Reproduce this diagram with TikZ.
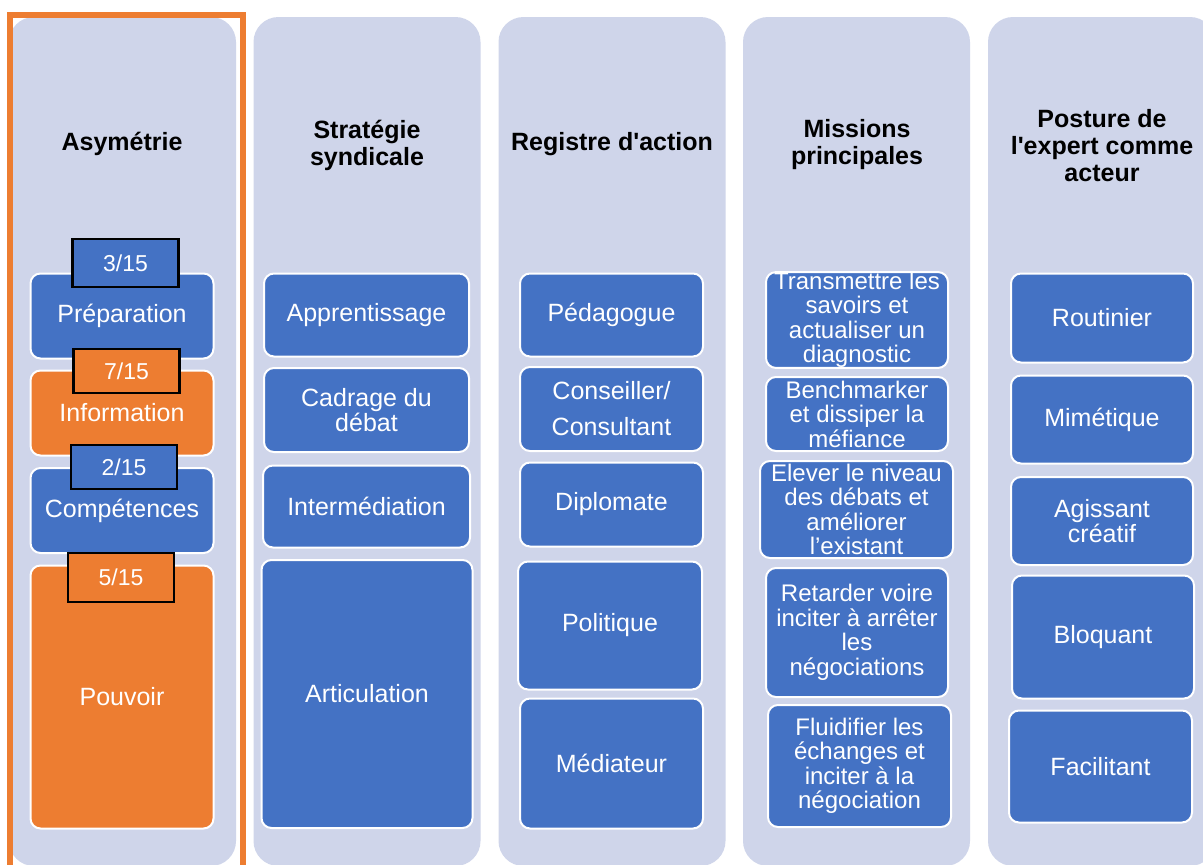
\documentclass[tikz,border=0pt]{standalone}
\usepackage{fontspec}
\setmainfont{Liberation Sans}
\definecolor{lavande}{HTML}{CFD5EA}
\definecolor{bleuppt}{HTML}{4472C4}
\definecolor{orangeppt}{HTML}{ED7D31}

\begin{document}
\begin{tikzpicture}[x=1pt, y=-1pt,
    col/.style={fill=lavande, rounded corners=25pt, minimum width=227pt,
                minimum height=849pt, inner sep=0pt},
    head/.style={align=center, font=\fontsize{25}{27}\selectfont\bfseries},
    box/.style={draw=white, line width=2pt, fill=bleuppt, rounded corners=10pt,
                text=white, align=center, inner sep=0pt, minimum width=183pt,
                font=\fontsize{25}{25}\selectfont},
    small/.style={font=\fontsize{24}{24.5}\selectfont},
    tag/.style={draw=black, line width=2.5pt, minimum width=106pt, minimum height=45pt,
                inner sep=0pt, text=white, font=\fontsize{23}{23}\selectfont}
  ]
  \useasboundingbox (0,0) rectangle (1203,865);
  \fill[white] (0,0) rectangle (1203,865);
  \clip (0,0) rectangle (1203,865);
  % Colonnes
  \node[col] (c1) at (122.5,441.5) {};
  \node[col] (c2) at (367,441.5) {};
  \node[col] (c3) at (612,441.5) {};
  \node[col] (c4) at (856.5,441.5) {};
  \node[col] (c5) at (1101.5,441.5) {};
  % Cadre
  \draw[orangeppt, line width=6pt] (10,900) -- (10,14.5) -- (242.5,14.5) -- (242.5,900);
  % Titres
  \node[head] (h1) at (122,144) {Asymétrie};
  \node[head] (h2) at (367,145) {Stratégie\\syndicale};
  \node[head] (h3) at (612,144) {Registre d\textquotesingle action};
  \node[head] (h4) at (857,145) {Missions\\principales};
  \node[head] (h5) at (1102,146) {Posture de\\l\textquotesingle expert comme\\acteur};
  % Asymetrie
  \node[box, minimum height=85pt] (prep) at (122,316) {Préparation};
  \node[box, fill=orangeppt, minimum height=85pt] (info) at (122,413) {Information};
  \node[box, minimum height=85pt] (comp) at (122,510.5) {Compétences};
  \node[box, fill=orangeppt, minimum height=263pt] (pouv) at (122,697) {Pouvoir};
  \node[tag, fill=bleuppt, minimum height=48pt] (t1) at (125.5,263) {3/15};
  \node[tag, fill=orangeppt, minimum height=44pt] (t2) at (126.5,371) {7/15};
  \node[tag, fill=bleuppt, minimum height=44pt] (t3) at (124,467) {2/15};
  \node[tag, fill=orangeppt, minimum height=49pt] (t4) at (121,577.5) {5/15};
  % Strategie syndicale
  \node[box, minimum width=205pt, minimum height=83pt] (appr) at (366.5,315) {Apprentissage};
  \node[box, minimum width=205pt, minimum height=84pt] (cadr) at (366.5,410) {Cadrage du\\débat};
  \node[box, minimum width=207pt, minimum height=82pt] (inte) at (366.5,506.5) {Intermédiation};
  \node[box, minimum width=211pt, minimum height=268pt] (arti) at (367,694) {Articulation};
  % Registre d'action
  \node[box, minimum height=83pt] (peda) at (611.5,315) {Pédagogue};
  \node[box, minimum height=84pt] (cons) at (611.5,409) {Conseiller/\\[11pt]Consultant};
  \node[box, minimum height=84pt] (dipl) at (611.5,504.5) {Diplomate};
  \node[box, minimum width=184pt, minimum height=128pt] (poli) at (610,625.5) {Politique};
  \node[box, minimum height=130pt] (medi) at (611.5,763.5) {Médiateur};
  % Missions principales
  \node[box, small, minimum width=182pt, minimum height=94pt] (tran) at (857,320) {Transmettre les\\savoirs et\\actualiser un\\diagnostic};
  \node[box, small, minimum width=182pt, minimum height=74pt] (benc) at (857,414) {Benchmarker\\et dissiper la\\méfiance};
  \node[box, small, minimum width=193pt, minimum height=97pt] (elev) at (856.5,509.5) {Elever le niveau\\des débats et\\améliorer\\l’existant};
  \node[box, small, minimum width=182pt, minimum height=129pt] (reta) at (857,632.5) {Retarder voire\\inciter à arrêter\\les\\négociations};
  \node[box, small, minimum width=183pt, minimum height=122pt] (flui) at (859.5,766) {Fluidifier les\\échanges et\\inciter à la\\négociation};
  % Posture de l'expert
  \node[box, minimum width=182pt, minimum height=89pt] (rout) at (1102,318) {Routinier};
  \node[box, minimum width=182pt, minimum height=88pt] (mime) at (1102,419.5) {Mimétique};
  \node[box, minimum width=182pt, minimum height=88pt] (agis) at (1102,521) {Agissant\\créatif};
  \node[box, minimum width=182pt, minimum height=123pt] (bloq) at (1103,637) {Bloquant};
  \node[box, minimum width=183pt, minimum height=112pt] (faci) at (1100.5,766.5) {Facilitant};
\end{tikzpicture}
\end{document}
